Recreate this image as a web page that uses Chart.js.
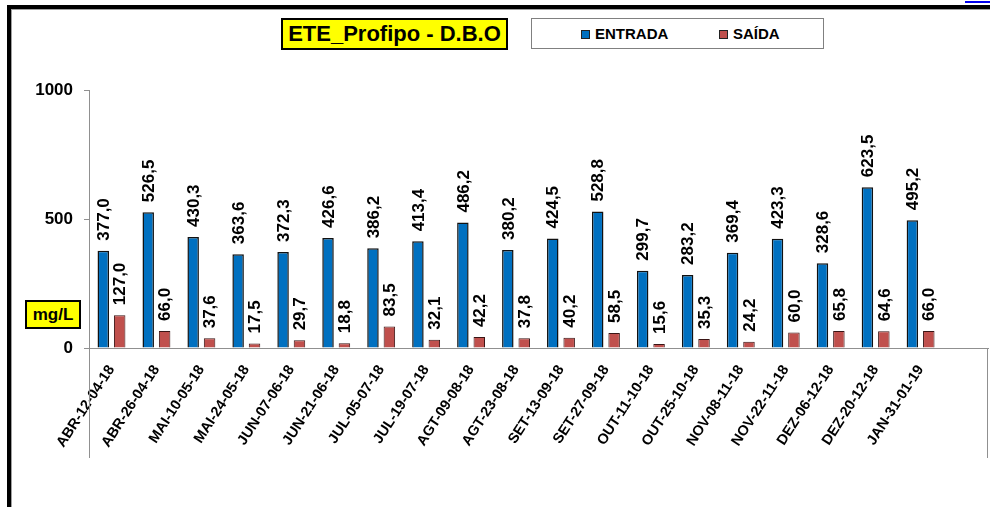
<!DOCTYPE html>
<html><head><meta charset="utf-8">
<script src="https://cdn.jsdelivr.net/npm/chart.js@4"></script>
<style>
html,body{margin:0;padding:0;background:#fff;width:990px;height:507px;overflow:hidden;font-family:Arial,"Liberation Sans",sans-serif}
#wrap{position:absolute;left:0;top:0;width:990px;height:507px}
#c{position:absolute;left:0;top:0}
.blk{position:absolute;background:#000}
.gry{position:absolute;background:#a0a0a0}
#link{position:absolute;left:965px;top:1px;width:25px;height:2px;background:#0000ee}
#title{position:absolute;left:281px;top:18px;width:227px;height:32px;box-sizing:border-box;background:#ffff00;border:2px solid #000;font-weight:bold;font-size:22px;line-height:28px;text-align:center;color:#000}
#legend{position:absolute;left:531px;top:18px;width:293px;height:31px;box-sizing:border-box;background:#fff;border:1px solid #808080}
.li{position:absolute;top:0;height:29px;line-height:29px;font-weight:bold;font-size:15px;color:#000;white-space:nowrap}
.sw{display:inline-block;width:7px;height:7px;border:1px solid #222;vertical-align:middle;margin-right:5px;position:relative;top:-1px}
#unit{position:absolute;left:25px;top:300px;width:56px;height:29px;box-sizing:border-box;background:#ffff00;border:2px solid #000;font-weight:bold;font-size:17px;line-height:25px;text-align:center;color:#000}
</style></head>
<body>
<div id="wrap">
<canvas id="c" width="990" height="507" style="width:990px;height:507px"></canvas>
<div class="blk" style="left:7px;top:5px;width:983px;height:4px"></div>
<div class="blk" style="left:7px;top:5px;width:4px;height:502px"></div>
<div class="gry" style="left:11px;top:9px;width:979px;height:1px"></div>
<div class="gry" style="left:11px;top:9px;width:1px;height:498px"></div>
<div id="link"></div>
<div id="title">ETE_Profipo - D.B.O</div>
<div id="legend"></div>
<div id="unit">mg/L</div>
</div>
<script>
const categories = ["ABR-12-04-18","ABR-26-04-18","MAI-10-05-18","MAI-24-05-18","JUN-07-06-18","JUN-21-06-18","JUL-05-07-18","JUL-19-07-18","AGT-09-08-18","AGT-23-08-18","SET-13-09-18","SET-27-09-18","OUT-11-10-18","OUT-25-10-18","NOV-08-11-18","NOV-22-11-18","DEZ-06-12-18","DEZ-20-12-18","JAN-31-01-19",""];
const entrada = [377.0,526.5,430.3,363.6,372.3,426.6,386.2,413.4,486.2,380.2,424.5,528.8,299.7,283.2,369.4,423.3,328.6,623.5,495.2,null];
const saida = [127.0,66.0,37.6,17.5,29.7,18.8,83.5,32.1,42.2,37.8,40.2,58.5,15.6,35.3,24.2,60.0,65.8,64.6,66.0,null];
const yTicks = [0,500,1000];
const seriesNames = ["ENTRADA","SAÍDA"];
const seriesColors = ["#0070C0","#C0504D"];

const FONT = 'Arial, "Liberation Sans", sans-serif';

const labelPlugin = {
  id:'barLabels',
  afterDatasetsDraw(chart){
    const ctx = chart.ctx;
    chart.data.datasets.forEach((ds,i)=>{
      const meta = chart.getDatasetMeta(i);
      meta.data.forEach((el,j)=>{
        const v = ds.data[j];
        if(v===null||v===undefined) return;
        ctx.save();
        ctx.translate(el.x+1, el.y-10);
        ctx.rotate(-Math.PI/2);
        ctx.font = 'bold 17px '+FONT;
        ctx.fillStyle = '#000';
        ctx.textAlign = 'left';
        ctx.textBaseline = 'middle';
        ctx.fillText(v.toFixed(1).replace('.',','),0,0);
        ctx.restore();
      });
    });
  }
};
const framePlugin = {
  id:'frameLines',
  afterDraw(chart){
    const ctx = chart.ctx, a = chart.chartArea;
    ctx.save();
    ctx.strokeStyle = '#909090';
    ctx.lineWidth = 1;
    ctx.beginPath();
    ctx.moveTo(Math.round(a.left)+0.5, a.bottom);
    ctx.lineTo(Math.round(a.left)+0.5, a.bottom+110);
    ctx.moveTo(Math.round(a.right)-0.5, a.bottom);
    ctx.lineTo(Math.round(a.right)-0.5, a.bottom+110);
    ctx.stroke();
    ctx.restore();
  }
};

const chart = new Chart(document.getElementById('c'),{
  type:'bar',
  data:{
    labels:categories,
    datasets:[
      {label:seriesNames[0],data:entrada,backgroundColor:seriesColors[0],borderColor:'#111',borderWidth:1.5},
      {label:seriesNames[1],data:saida,backgroundColor:seriesColors[1],borderColor:'#3a1515',borderWidth:1}
    ]
  },
  options:{
    responsive:false,
    animation:false,
    devicePixelRatio:1,
    layout:{padding:{left:0,right:2,top:90,bottom:0}},
    datasets:{bar:{categoryPercentage:0.73,barPercentage:0.7}},
    plugins:{legend:{display:false},title:{display:false},tooltip:{enabled:false}},
    scales:{
      x:{
        grid:{display:false},
        border:{display:true,color:'#909090',width:1},
        ticks:{autoSkip:false,minRotation:57,maxRotation:57,padding:6,color:'#000',font:{family:FONT,size:14.5,weight:'bold'}},
        afterFit(s){s.height=159;}
      },
      y:{
        min:0,max:1000,
        afterBuildTicks(s){s.ticks=yTicks.map(v=>({value:v}));},
        grid:{drawOnChartArea:false,drawTicks:true,tickLength:5,color:'#909090'},
        border:{display:true,color:'#909090',width:1},
        ticks:{padding:11,color:'#000',font:{family:FONT,size:17,weight:'bold'},callback:(v)=>String(v)},
        afterFit(s){s.width=89;}
      }
    }
  },
  plugins:[labelPlugin,framePlugin]
});

const lg = document.getElementById('legend');
const pos = [[49],[187]];
seriesNames.forEach((n,i)=>{
  const d = document.createElement('div');
  d.className='li';
  d.style.left = pos[i][0]+'px';
  d.innerHTML = '<span class="sw" style="background:'+seriesColors[i]+'"></span>'+n;
  lg.appendChild(d);
});
</script>
</body></html>
